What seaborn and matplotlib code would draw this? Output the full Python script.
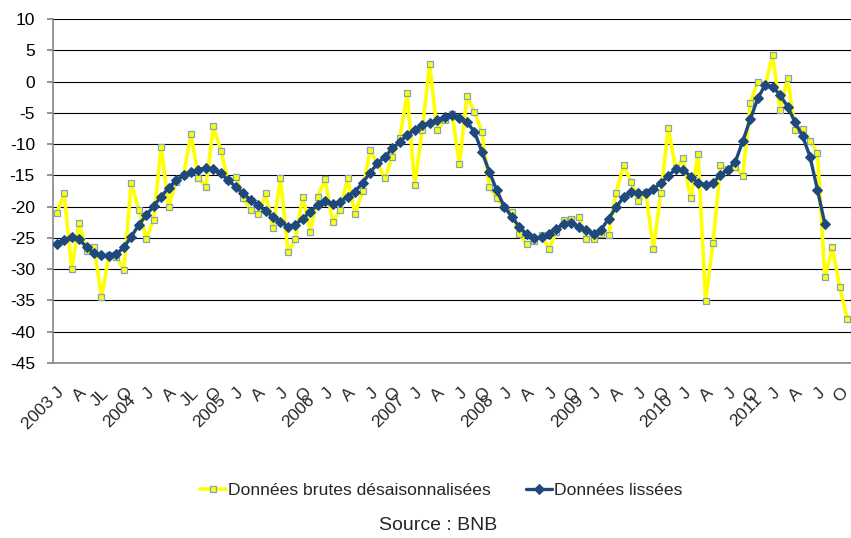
import numpy as np
import pandas as pd
import matplotlib
matplotlib.use('Agg')
import matplotlib.pyplot as plt
import matplotlib.transforms as mtransforms
from matplotlib import font_manager
import seaborn as sns

# --- Data (monthly, Jan 2003 -> Nov 2011) ---
raw_values = [
    -21.0, -17.9, -30.0, -22.6, -27.1, -26.4, -34.5, -27.8, -28.0, -30.1, -16.2, -20.5,
    -25.1, -22.1, -10.4, -20.0, -16.0, -15.0, -8.4, -15.5, -16.8, -7.1, -11.1, -15.8,
    -15.3, -18.7, -20.5, -21.2, -17.9, -23.4, -15.5, -27.3, -25.2, -18.4, -24.0, -18.4,
    -15.6, -22.5, -20.5, -15.5, -21.2, -17.5, -11.0, -13.1, -15.5, -12.0, -9.0, -1.9,
    -16.5, -7.8, 2.8, -7.8, -6.2, -5.2, -13.2, -2.3, -4.8, -8.1, -16.8, -18.7,
    -20.1, -20.8, -24.4, -26.0, -25.5, -24.5, -26.8, -24.0, -22.2, -22.0, -21.6, -25.2,
    -25.1, -24.3, -24.5, -17.8, -13.4, -16.0, -19.1, -17.7, -26.8, -17.8, -7.5, -13.9,
    -12.3, -18.7, -11.6, -35.1, -25.8, -13.4, -14.0, -13.6, -15.1, -3.4, 0.0, -0.5,
    4.2, -4.6, 0.5, -7.7, -7.6, -9.5, -11.4, -31.3, -26.5, -32.9, -37.9,
]
smooth_values = [
    -25.9, -25.4, -24.8, -25.2, -26.5, -27.4, -27.7, -27.9, -27.6, -26.5, -24.8, -22.9,
    -21.4, -19.9, -18.4, -17.0, -15.8, -15.0, -14.4, -14.1, -13.8, -14.0, -14.7, -15.8,
    -16.8, -17.9, -18.9, -19.8, -20.7, -21.6, -22.4, -23.2, -22.9, -21.9, -20.8, -19.7,
    -19.1, -19.6, -19.3, -18.4, -17.6, -16.2, -14.6, -13.1, -12.0, -10.7, -9.7, -8.5,
    -7.75, -7.0, -6.6, -6.2, -5.7, -5.4, -5.9, -6.5, -8.0, -11.2, -14.4, -17.4,
    -20.0, -21.6, -23.2, -24.4, -25.0, -24.9, -24.3, -23.5, -22.8, -22.6, -23.2, -23.8,
    -24.4, -23.7, -21.9, -20.1, -18.5, -17.6, -17.8, -17.8, -17.2, -16.2, -15.1, -14.0,
    -14.1, -15.2, -16.2, -16.5, -16.2, -14.9, -14.1, -12.8, -9.5, -6.0, -2.7, -0.5,
    -0.8, -2.2, -4.0, -6.5, -8.7, -12.0, -17.3, -22.8,
]
years = list(range(2003, 2012))
quarter_letters = ['J', 'A', 'J', 'O']
label_raw = 'Données brutes désaisonnalisées'
label_smooth = 'Données lissées'
source_text = 'Source : BNB'

# --- Fonts ---
sns.set_theme(style='white')
available = {f.name for f in font_manager.fontManager.ttflist}
narrow = 'Liberation Sans Narrow' if 'Liberation Sans Narrow' in available else 'Liberation Sans'
plt.rcParams['font.family'] = ['Liberation Sans', 'DejaVu Sans']
plt.rcParams['axes.unicode_minus'] = False

df_raw = pd.DataFrame({'month': np.arange(len(raw_values)), 'value': raw_values})
df_smooth = pd.DataFrame({'month': np.arange(len(smooth_values)), 'value': smooth_values})

fig = plt.figure(figsize=(8.51, 5.38), dpi=100)
ax = fig.add_axes([0.0623, 0.3253, 0.9377, 0.6394])

sns.lineplot(data=df_raw, x='month', y='value', ax=ax, color='#FFFF00', linewidth=2.6,
             marker='s', markersize=4.8, markerfacecolor='#FFFF00',
             markeredgecolor='#7FA3CF', markeredgewidth=0.9, label=label_raw, zorder=3)
sns.lineplot(data=df_smooth, x='month', y='value', ax=ax, color='#1F497D', linewidth=2.4,
             marker='D', markersize=5.5, markerfacecolor='#1F497D',
             markeredgecolor='#1F497D', label=label_smooth, zorder=4)

# --- Axes ---
ax.set_xlim(-0.5, len(raw_values) - 0.5)
ax.set_ylim(-45, 10)
ax.set_yticks(np.arange(-45, 11, 5))
ax.yaxis.grid(True, color='#000000', linewidth=0.8)
ax.xaxis.grid(False)
ax.set_xlabel('')
ax.set_ylabel('')
for side in ['top', 'right']:
    ax.spines[side].set_visible(False)
for side in ['left', 'bottom']:
    ax.spines[side].set_color('#868686')
    ax.spines[side].set_linewidth(1.2)
ax.tick_params(axis='y', which='both', left=True, length=4, color='#868686',
               pad=9, labelsize=12.5, labelcolor='#000000')

# x tick labels: one every 3 months, year written separately
tick_pos = np.arange(0, len(raw_values), 3)
tick_labels = []
for p in tick_pos:
    yr, q = divmod(p // 3, 4)
    letter = quarter_letters[q]
    if q == 2 and years[yr] in (2003, 2004):
        letter = 'JL'
    if p == 0:
        letter = f'{years[0]} J'
    tick_labels.append(letter)
ax.set_xticks(tick_pos)
ax.set_xticklabels(tick_labels, rotation=45, ha='right', va='top',
                   rotation_mode='anchor', fontsize=12.5)
ax.tick_params(axis='x', bottom=False, pad=10)

year_tf = mtransforms.blended_transform_factory(ax.transData, ax.transAxes)
for k, yr in enumerate(years[1:], start=1):
    ax.annotate(str(yr), xy=(12 * k, 0), xycoords=year_tf,
                xytext=(-13, -21), textcoords='offset points',
                rotation=45, ha='right', va='top', rotation_mode='anchor',
                fontsize=12.5, annotation_clip=False)

# --- Legend and source ---
handles, labels = ax.get_legend_handles_labels()
ax.legend(handles, labels, loc='center', bbox_to_anchor=(0.518, 0.089),
          bbox_transform=fig.transFigure, ncol=2, frameon=False,
          prop={'family': narrow, 'size': 12.6}, handlelength=1.5,
          handletextpad=0.1, columnspacing=2.0)
fig.text(0.515, 0.024, source_text, ha='center', va='center',
         family=narrow, fontsize=14)

fig.savefig('out.png', dpi=100, facecolor='white')
